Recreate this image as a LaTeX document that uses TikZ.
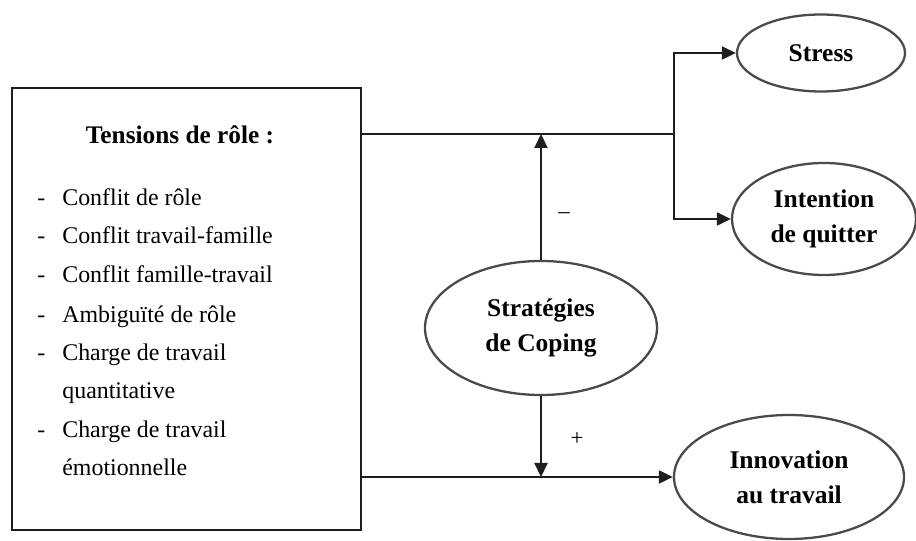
\documentclass[tikz,border=0pt]{standalone}
\usepackage{fontspec}
\setmainfont{Liberation Serif}
\usepackage{xcolor}
\usepackage{tikz}
\usetikzlibrary{shapes.geometric,arrows.meta,positioning}
\definecolor{inkline}{HTML}{1E1E1E}
\definecolor{inkrim}{HTML}{4A4A4A}

\begin{document}
\begin{tikzpicture}[
    rimbox/.style={draw=inkline, line width=1.6pt, minimum width=6.98cm, minimum height=8.84cm},
    outcome/.style={ellipse, draw=inkrim, line width=1.3pt, inner sep=0pt, align=center,
      font=\bfseries\fontsize{14.5}{19.9}\selectfont},
    itemtxt/.style={anchor=west, inner sep=0pt, text height=1.6ex, text depth=0.3ex,
      font=\fontsize{13.6}{16}\selectfont},
    link/.style={draw=inkline, line width=1.2pt},
    tip/.style={link, -{Triangle[length=0.28cm, width=0.26cm]}},
    sign/.style={font=\fontsize{13}{15}\selectfont}
  ]
        \useasboundingbox (0,0) rectangle (18.32,10.82);
        % Box
        \node[rimbox] (tension) at (3.73,4.64) {};
        \node[font=\bfseries\fontsize{14.4}{17}\selectfont] (title) at (3.6,8.12) {Tensions de rôle :};
        % List
        \foreach \y/\t [count=\i] in {6.82/Conflit de rôle, 6.06/Conflit travail-famille,
            5.28/Conflit famille-travail, 4.48/Ambiguïté de rôle, 3.72/Charge de travail,
            2.18/Charge de travail}
          {
            \node[itemtxt] (item\i) at (1.24,\y) {\t};
            \node[itemtxt] (dash\i) at (0.74,\y) {-};
          }
        \node[itemtxt] (item7) at (1.24,2.96) {quantitative};
        \node[itemtxt] (item8) at (1.24,1.42) {émotionnelle};
        % Ellipses
        \node[outcome, minimum width=3.36cm, minimum height=1.54cm] (stress) at (16.42,9.76) {Stress};
        \node[outcome, minimum width=3.68cm, minimum height=2.24cm] (quit) at (16.48,6.44) {Intention\\de quitter};
        \node[outcome, minimum width=4.64cm, minimum height=2.68cm] (coping) at (10.82,4.26) {Stratégies\\de Coping};
        \node[outcome, minimum width=4.6cm, minimum height=2.48cm] (innov) at (15.78,1.28) {Innovation\\au travail};
        % Arrows
        \coordinate (split) at (13.48,8.14);
        \draw[link] (tension.east |- split) -- (split);
        \draw[tip] (split) |- (stress.west);
        \draw[tip] (split) |- (quit.west);
        \draw[tip] (tension.east |- innov.west) -- (innov.west);
        \draw[tip] (coping.north) -- (coping.north |- split);
        \draw[tip] (coping.south) -- (coping.south |- innov.west);
        \node[sign] (minus) at (11.28,6.5) {\textendash};
        \node[sign] (plus) at (11.54,2.04) {+};
      \end{tikzpicture}
\end{document}
